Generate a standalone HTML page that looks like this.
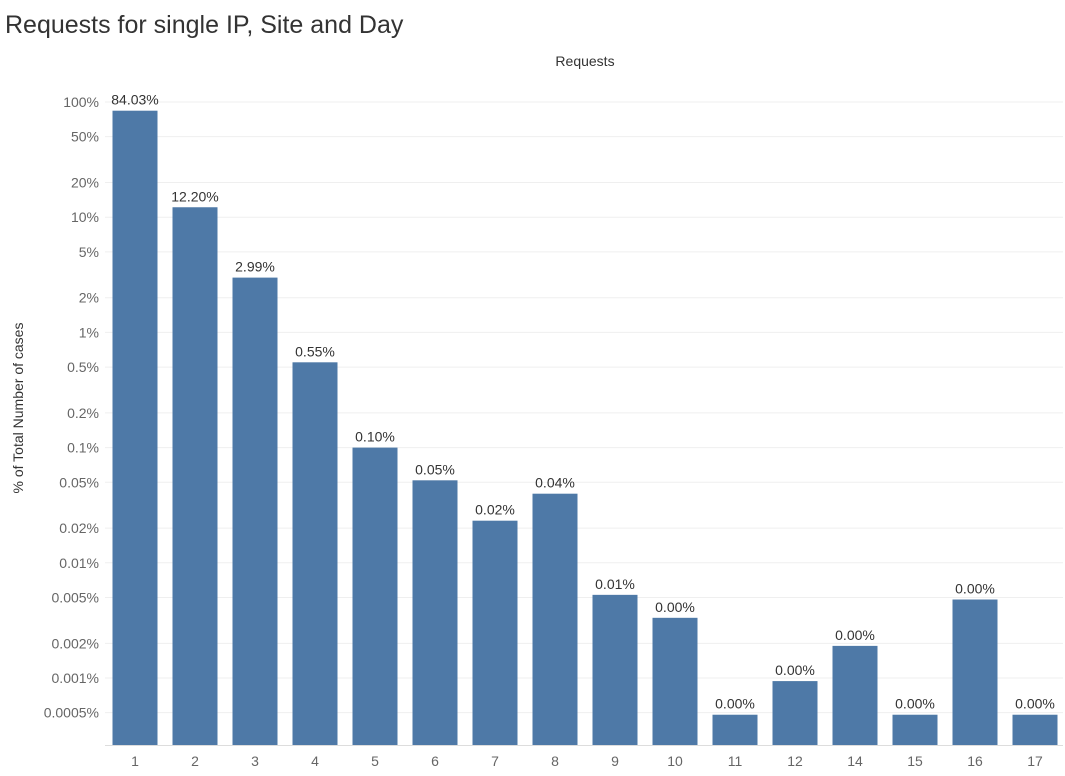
<!DOCTYPE html>
<html><head><meta charset="utf-8"><style>
body{margin:0;background:#fff;font-family:"Liberation Sans",sans-serif}
</style></head><body>
<svg id="c" width="1065" height="771" xmlns="http://www.w3.org/2000/svg">
<text x="5" y="33" font-size="25" fill="#333">Requests for single IP, Site and Day</text>
<text x="585" y="66" font-size="14" fill="#333" text-anchor="middle">Requests</text>
<text transform="translate(23,408) rotate(-90)" font-size="14" fill="#333" text-anchor="middle">% of Total Number of cases</text>
<g id="grid"></g><g id="bars"></g><g id="labels"></g>
</svg>
<script>
const categories=["1","2","3","4","5","6","7","8","9","10","11","12","14","15","16","17"];
const values=[84.03,12.2,2.99,0.55,0.10,0.052,0.0232,0.0398,0.00527,0.00333,0.00048,0.00094,0.0019,0.00048,0.0048,0.00048];
const valueLabels=["84.03%","12.20%","2.99%","0.55%","0.10%","0.05%","0.02%","0.04%","0.01%","0.00%","0.00%","0.00%","0.00%","0.00%","0.00%","0.00%"];
const tickValues=[100,50,20,10,5,2,1,0.5,0.2,0.1,0.05,0.02,0.01,0.005,0.002,0.001,0.0005];
const tickLabels=["100%","50%","20%","10%","5%","2%","1%","0.5%","0.2%","0.1%","0.05%","0.02%","0.01%","0.005%","0.002%","0.001%","0.0005%"];
const NS="http://www.w3.org/2000/svg";
const pxPerDecade=115.2, y100=102, base=745;
function y(v){return y100+pxPerDecade*Math.log10(100/v);}
function x(i){return 135+60*i;}
function mk(t,a,p){const e=document.createElementNS(NS,t);for(const k in a)e.setAttribute(k,a[k]);p.appendChild(e);return e;}
const grid=document.getElementById('grid'),bars=document.getElementById('bars'),labels=document.getElementById('labels');
tickValues.forEach((v,i)=>{
  const l=mk('line',{x1:105,x2:1063,y1:y(v),y2:y(v),stroke:'#efefef'},grid);
  
  
  const t=mk('text',{x:99,y:y(v)+5,'font-size':14,fill:'#666','text-anchor':'end'},grid);
  t.textContent=tickLabels[i];
  
  
});
const ax=mk('line',{x1:105,x2:1063,y1:base+0.5,y2:base+0.5,stroke:'#ddd'},grid);


categories.forEach((c,i)=>{
  const top=y(values[i]);
  const r=mk('rect',{x:x(i)-22.5,y:top,width:45,height:base-top,fill:'#4e79a7'},bars);
  
  
  const t=mk('text',{x:x(i),y:top-6,'font-size':14,fill:'#333','text-anchor':'middle'},labels);
  t.textContent=valueLabels[i];
  
  
  const xl=mk('text',{x:x(i),y:766,'font-size':14,fill:'#666','text-anchor':'middle'},labels);
  xl.textContent=c;
  
  
});
</script>
</body></html>
